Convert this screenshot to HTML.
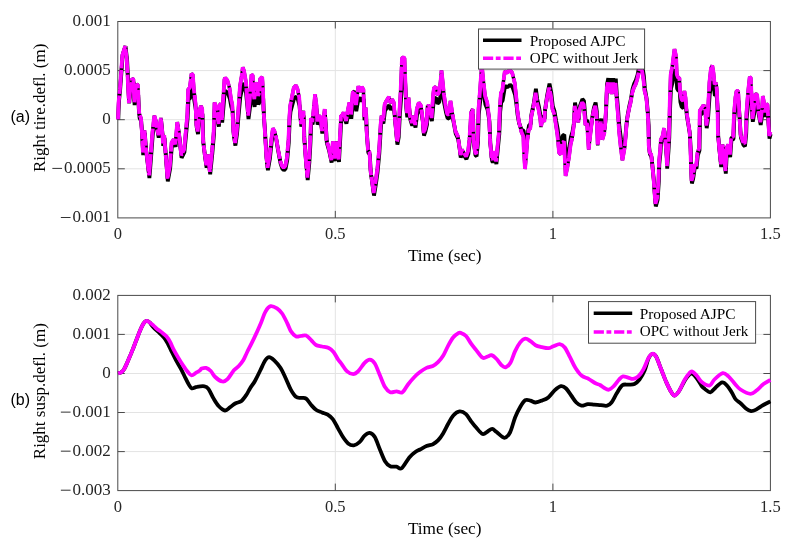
<!DOCTYPE html><html><head><meta charset="utf-8"><style>html,body{margin:0;padding:0;background:#fff;}svg{display:block;will-change:transform}</style></head><body>
<svg width="790" height="549" viewBox="0 0 790 549">
<rect width="790" height="549" fill="#fff"/>
<path d="M335.3 21.5V217.9M552.9 21.5V217.9M117.8 70.6H770.4M117.8 119.7H770.4M117.8 168.8H770.4" stroke="#e3e3e3" stroke-width="1" fill="none"/>
<rect x="117.8" y="21.5" width="652.6" height="196.4" fill="none" stroke="#4a4a4a" stroke-width="1"/>
<path d="M335.3 217.9v-7M335.3 21.5v7M552.9 217.9v-7M552.9 21.5v7M117.8 70.6h7M770.4 70.6h-7M117.8 119.7h7M770.4 119.7h-7M117.8 168.8h7M770.4 168.8h-7" stroke="#4a4a4a" stroke-width="1" fill="none"/>
<g fill="none" stroke-linejoin="bevel"><path d="M118.3 119.4L118.9 102.3L120.2 89.2L122.7 55L125.5 46.2L127.1 59.7L128.1 80.2L129.2 103.1L130.4 90.8L131.7 88.1L132.5 80.1L133.7 82.7L134.6 105.1L135.8 95.1L136.9 92.7L138.3 95.2L138.8 108.8L139.6 118L141.2 121L142.3 135.4L143.2 155.1L144.8 132.9L146.1 150.1L147.3 160L149.4 178L151 158.3L152.7 135.4L154.6 119.2L156.3 123.9L158.7 137.8L161.2 121L162.8 137L163.2 146L164.5 137.8L167.8 181.3L170.2 168.2L171.9 145.2L174 141.9L175.6 146.9L177.6 124.7L179.4 137.3L181.6 157.9L184.4 152.2L185.5 140.6L187.6 118.8L188.5 99.6L190.1 98.3L191.8 87.8L193.1 88.5L194.2 99.6L195.9 110.7L196.7 127.5L198 134.1L199.7 115.6L201.3 111.9L202.5 114.3L203.3 142.3L204.9 155.4L206.6 167.8L208.2 157.1L210.2 174.4L212.3 153.8L214 134.1L214.8 109.4L216.1 111.9L217.8 120.5L218.9 126.6L219.7 111.9L221 110.1L222.2 122.5L224.7 92.1L225.5 90.9L227.6 92.8L228.8 95.8L229.8 98.5L231.3 106.8L232.6 111.3L233.7 134.1L235.4 145.6L237 134.1L238.7 114.3L240.3 97.1L241.9 89.7L243.1 82.9L244.4 86L246.1 93.3L247.4 106.9L248.5 119.1L250.2 105.7L251.8 88.5L253 89.1L254 103.2L254.6 106.9L255.9 95.2L257.3 95.2L258.4 104.5L259.6 102L260.5 91.5L262.5 90.3L263.3 99.6L263.8 114.3L265 130.6L266.6 158.7L267.9 170.3L269.9 158.7L271.6 142.3L273.2 130.8L274.9 134.1L276.5 140.6L278.1 150.5L280.6 163.7L282.3 168.6L283.9 170.3L285.6 168.6L287.2 160.4L288.8 142.3L289.7 120.5L290.5 111.9L292.1 105.7L294.1 98.3L296.3 96.5L297.9 99.6L299.5 105.7L300.4 116.8L301.3 126.6L302.8 118.8L303.7 115.6L304.4 139L306.1 162L307.7 180.1L309.4 162L310.5 142.3L311.3 121L312.6 124.6L314.3 111.9L315.4 103.2L316.8 111.9L317.6 124.6L319.2 119.3L320.9 120.5L322.3 133.6L325 114.3L326.3 132.9L326.8 142.6L329.1 150.6L331.6 162.6L333.2 143.9L334.9 161.2L336.5 143.9L339 162L340.6 132.6L341.3 119.3L342.3 119.3L343.9 116.8L346.4 123.6L348 115.6L349.7 109.4L351.3 118.8L353 102L354.6 100.8L356.3 111.3L358.7 97.1L360.4 101.5L362 97.7L363.7 99.6L364.5 120.3L366.1 113.1L366.9 133.6L368.3 152.6L369.8 154.6L370.8 172.6L374 195.6L376 183.4L377.6 171.9L379.3 153.8L380.9 127.6L381.8 119.3L383.4 123.6L385 110.7L386.7 108.2L389.2 105.1L390.8 109.8L392.4 106.9L394.1 109.4L395.4 123.2L397.4 144.6L398.7 137.3L399.9 114.3L401 99.6L402.3 76.1L403.6 75.5L404.8 76.1L406.4 109.4L407.3 117.3L408.9 105.7L410.2 119.3L412.2 125.6L413.8 119.3L415.5 127.6L417.1 114.3L419.1 109.4L421.3 111.9L422.9 121.8L424 135.6L425.4 131.5L427 124.6L427.8 111.9L429.5 111.9L431.9 121L433.5 103.2L434.3 98.3L436 97.7L437.6 103.8L439.3 102L440.9 93.3L441.8 85.3L443.1 94.6L444.2 103.2L445.9 111.9L447.5 118L449.2 118.7L450.8 108.2L452.5 116.8L454.1 124.6L455.7 133.6L458.2 139L459.9 150.5L460.7 157.6L462.3 152.2L464 155.4L466.4 159.1L468.4 153.8L469.7 142.3L471.4 116.8L473 114.3L473.8 142.3L475.5 155.4L476.6 156.3L478 142.3L478.8 114.3L480.4 99.6L481.6 86L482.1 81.3L483.7 93.3L485.4 104.5L487.5 109.4L489.5 121.8L490.3 142.6L491.9 160.4L492.8 162.6L494.4 153.8L496.4 164.1L497.7 150.5L499.3 134.1L500.2 111.9L501.3 102L502.6 100.8L504 92.1L505.1 86L507.6 87.2L510 84.7L512.5 87.2L515 94.6L516.6 105.7L517.5 114.3L519.1 123.3L521.6 129.8L523.7 130.8L524 139.8L525.3 156.6L526.5 146.3L527.7 133.2L529 125.4L530.6 124L531.4 114.7L533.9 102.6L535.9 88.8L537.2 99.1L538.8 106.1L540.5 115.7L541.3 123L543 115.4L544.6 119L545.1 109.5L547.1 95.7L549.5 83.6L551.2 92.3L552.8 106.1L554.5 111.2L556.1 120.6L557.7 129.2L559.4 143.7L561 145L562.6 135.8L564.3 134.5L565.4 153L565.9 162.2L567.6 155.6L569.2 147.7L570.9 137.1L572.5 131.8L574.2 121.4L575 102.6L576.6 111.2L577.5 115.4L578.6 119.3L579.9 106.1L582.4 99.1L584 100.9L585.7 121.4L587.3 120L589 141.1L590.6 129.2L592.3 117.4L593.9 107.9L595.6 102.6L596.8 111.2L598 137.8L599.7 126.6L601.3 118.7L602.6 133.2L604.6 127.9L605.4 121.4L606.3 106.1L607.1 83.9L608.3 78.1L609.6 89.2L610.8 78.1L612.1 90.2L613.3 78.1L614.6 89.2L615.8 78.7L616.9 95.7L618.1 109.5L619.4 126.6L621.1 139.8L622.7 149.7L625.2 138.5L626.8 121.4L627.6 115.4L629.3 106.1L630.9 99.1L632.6 88.8L634.2 83.6L635.9 80.1L637.5 75L639.2 66.4L640.5 61.9L642.4 66.4L643.8 75.2L644.9 88.5L646.6 98.3L647.7 110.8L648.7 126.1L649 145.6L649.9 154.1L651.5 157.1L652.3 164.4L654 182.2L655.2 199.9L655.8 206.4L657.6 199.9L658.8 182.2L659.3 164.4L660.5 152.6L661.1 142.3L662.8 139L664.4 130.8L665.6 142.3L666.9 158.7L667.2 168.6L668.5 150.5L669.3 137.3L670.2 105.7L671 88.5L672.6 82.2L674.8 69.3L676.4 74.9L677.1 88.5L678.4 90.9L679.7 90.9L680.4 102L681.7 106.9L683.3 108.2L684.7 100.8L685.8 105.7L687 116.8L688.3 124.2L689.9 134.1L690.7 148.9L691.2 167L691.9 183.4L693.2 178.5L694.9 167L696.5 168.6L697.8 155.4L699.5 150.5L700.1 115.6L702.3 113.1L703.9 111.3L705.6 114.3L706.7 128.2L708 119.3L709.7 94.6L711.3 83.5L712.6 81.6L713.8 87.2L714.9 95.8L716.3 94.6L717.1 99.6L717.9 114.3L718.2 135.7L719.5 150.5L721.2 167L722.8 147.2L724.5 158.7L725.8 173.6L726.9 150.5L728.6 147.2L730.2 157.1L731.4 140.6L733.5 139L734.3 118L735.7 105.7L736.8 100.8L738.5 100.8L739.3 113.1L740.9 137.6L743.4 144.8L745 146.4L746.2 134.1L746.7 118L748.3 102L750 90.3L751.1 90.9L752.1 109.4L752.8 121.8L754.1 114.3L755.4 103.2L757.4 103.2L758.7 114.3L760.7 124.9L762.3 114.3L763.1 104.5L764.3 109.4L765.6 116.8L766.9 110.7L767.8 110.9L769.5 138.6L770.7 134.1" stroke="#000" stroke-width="3.8"/><path d="M118 119.4L118.6 102.3L119.9 89.2L122.4 55L125.2 46.2L126.8 59.7L127.8 80.2L128.9 103.1L130.1 90.8L131.4 87.5L132.2 78.5L133.4 79.3L134.3 102.3L135.5 89.2L136.6 84.3L138 85.1L138.5 102.3L139.3 114L140.9 118L142 132.8L142.9 152.5L144.5 130.3L145.8 147.5L147 157.4L149.1 175.4L150.7 155.7L152.4 132.8L154.3 115.6L156 121.3L158.4 135.2L160.9 118L162.5 134.4L162.9 143.4L164.2 135.2L167.5 178.7L169.9 165.6L171.6 142.6L173.7 139.3L175.3 144.3L177.3 122.1L179.1 134.7L181.3 155.3L184.1 149.6L185.2 138L187.3 115L188.2 89.4L189.8 87.7L191.5 73.7L192.8 74.6L193.9 89.4L195.6 104.2L196.4 124.9L197.7 131.5L199.4 110.8L201 105.8L202.2 109.1L203 139.7L204.6 152.8L206.3 165.2L207.9 154.5L209.9 171.8L212 151.2L213.7 131.5L214.5 102.5L215.8 105.8L217.5 117.3L218.6 124L219.4 105.8L220.7 103.4L221.9 119.9L224.4 79.5L225.2 77.8L227.3 80.3L228.5 84.4L229.5 88L231 99L232.3 105L233.4 131.5L235.1 143L236.7 131.5L238.4 109.1L240 86.1L241.6 76.2L242.8 67.2L244.1 71.3L245.8 81.1L247.1 99.2L248.2 115.5L249.9 97.6L251.5 74.6L252.7 75.4L253.7 94.3L254.3 99.2L255.6 83.6L257 83.6L258.1 95.9L259.3 92.7L260.2 78.7L262.2 77L263 89.4L263.5 109.1L264.7 128L266.3 156.1L267.6 167.7L269.6 156.1L271.3 139.7L272.9 128.2L274.6 131.5L276.2 138L277.8 147.9L280.3 161.1L282 166L283.6 167.7L285.3 166L286.9 157.8L288.5 139.7L289.4 117.3L290.2 105.8L291.8 97.6L293.8 87.7L296 85.3L297.6 89.4L299.2 97.6L300.1 112.4L301 124L302.5 115L303.4 110.8L304.1 136.4L305.8 159.4L307.4 177.5L309.1 159.4L310.2 139.7L311 118L312.3 122L314 105.8L315.1 94.3L316.5 105.8L317.3 122L318.9 115.7L320.6 117.3L322 131L324.7 109.1L326 130.3L326.5 140L328.8 148L331.3 160L332.9 141.3L334.6 158.6L336.2 141.3L338.7 159.4L340.3 130L341 115.7L342 115.7L343.6 112.4L346.1 121L347.7 110.8L349.4 102.5L351 115L352.7 92.7L354.3 91L356 105L358.4 86.1L360.1 92L361.7 86.9L363.4 89.4L364.2 117L365.8 107.5L366.6 131L368 150L369.5 152L370.5 170L373.7 193L375.7 180.8L377.3 169.3L379 151.2L380.6 125L381.5 115.7L383.1 121L384.7 104.2L386.4 100.9L388.9 96.8L390.5 103L392.1 99.2L393.8 102.5L395.1 120.6L397.1 142L398.4 134.7L399.6 109.1L400.7 89.4L402 58.1L403.3 57.3L404.5 58.1L406.1 102.5L407 113L408.6 97.6L409.9 115.7L411.9 123L413.5 115.7L415.2 125L416.8 109.1L418.8 102.5L421 105.8L422.6 119L423.7 133L425.1 128.9L426.7 122L427.5 105.8L429.2 105.8L431.6 118L433.2 94.3L434 87.7L435.7 86.9L437.3 95L439 92.7L440.6 81.1L441.5 70.4L442.8 82.8L443.9 94.3L445.6 105.8L447.2 114L448.9 114.9L450.5 100.9L452.2 112.4L453.8 122L455.4 131L457.9 136.4L459.6 147.9L460.4 155L462 149.6L463.7 152.8L466.1 156.5L468.1 151.2L469.4 139.7L471.1 112.4L472.7 109.1L473.5 139.7L475.2 152.8L476.3 153.7L477.7 139.7L478.5 109.1L480.1 89.4L481.3 71.3L481.8 65L483.4 81.1L485.1 96L487.2 102.5L489.2 119L490 140L491.6 157.8L492.5 160L494.1 151.2L496.1 161.5L497.4 147.9L499 131.5L499.9 105.8L501 92.7L502.3 91L503.7 79.5L504.8 71.3L507.3 72.9L509.7 69.6L512.2 72.9L514.7 82.8L516.3 97.6L517.2 109.1L518.8 121L521.3 131.5L523.4 136.4L523.7 147.9L525 169L526.2 156.1L527.4 139.7L528.7 130L530.3 128.2L531.1 117.3L533.6 105.8L535.6 92.7L536.9 102.5L538.5 109.1L540.2 118.3L541 127L542.7 118L544.3 122L544.8 112.4L546.8 99.2L549.2 87.7L550.9 96L552.5 109.1L554.2 114L555.8 124L557.4 134.7L559.1 152.8L560.7 154.5L562.3 143L564 141.3L565.1 164.4L565.6 175.9L567.3 167.7L568.9 157.8L570.6 144.6L572.2 138L573.9 124.9L574.7 105.8L576.3 114L577.2 118L578.3 122.3L579.6 109.1L582.1 102.5L583.7 104.2L585.4 125L587 123.2L588.7 149.6L590.3 134.7L592 120L593.6 110.8L595.3 105.8L596.5 114L597.7 145.4L599.4 131.5L601 121.6L602.3 139.7L604.3 133.1L605.1 125L606 109.1L606.8 88L608 82.5L609.3 93L610.5 82.5L611.8 94L613 82.5L614.3 93L615.5 83L616.6 99.2L617.8 112.4L619.1 131.5L620.8 147.9L622.4 160.3L624.9 146.3L626.5 125L627.3 118L629 109.1L630.6 102.5L632.3 92.7L633.9 87.7L635.6 84.4L637.2 79.5L638.9 71.3L640.2 67L642.1 71.3L643.5 79.5L644.6 91L646.3 97.6L647.4 109.1L648.4 125L648.7 145L649.6 152.4L651.2 154.5L652 161.8L653.7 179.6L654.9 197.3L655.5 203.8L657.3 197.3L658.5 179.6L659 161.8L660.2 150L660.8 139.7L662.5 136.4L664.1 128.2L665.3 139.7L666.6 156.1L666.9 166L668.2 147.9L669 134.7L669.9 97.6L670.7 74.6L672.3 66.3L674.5 49.1L676.1 56.5L676.8 74.6L678.1 77.8L679.4 77.8L680.1 92.7L681.4 99.2L683 100.9L684.4 91L685.5 97.6L686.7 112.4L688 121.6L689.6 131.5L690.4 146.3L690.9 164.4L691.6 180.8L692.9 175.9L694.6 164.4L696.2 166L697.5 152.8L699.2 147.9L699.8 110.8L702 107.5L703.6 105L705.3 109.1L706.4 125.6L707.7 115.7L709.4 82.8L711 68L712.3 65.5L713.5 72.9L714.6 84.4L716 82.8L716.8 89.4L717.6 109.1L717.9 133.1L719.2 147.9L720.9 164.4L722.5 144.6L724.2 156.1L725.5 171L726.6 147.9L728.3 144.6L729.9 154.5L731.1 138L733.2 136.4L734 114L735.4 97.6L736.5 91L738.2 91L739 107.5L740.6 135L743.1 142.2L744.7 143.8L745.9 131.5L746.4 114L748 92.7L749.7 77L750.8 77.8L751.8 102.5L752.5 119L753.8 109.1L755.1 94.3L757.1 94.3L758.4 109.1L760.4 122.3L762 109.1L762.8 96L764 102.5L765.3 112.4L766.6 104.2L767.5 104.5L769.2 136L770.4 131.5" stroke="#000" stroke-width="3.4"/><path d="M118 119.4L118.6 102.3L119.9 89.2L122.4 55L125.2 46.2L126.8 59.7L127.8 80.2L128.9 103.1L130.1 90.8L131.4 87.5L132.2 78.5L133.4 79.3L134.3 102.3L135.5 89.2L136.6 84.3L138 85.1L138.5 102.3L139.3 114L140.9 118L142 132.8L142.9 152.5L144.5 130.3L145.8 147.5L147 157.4L149.1 175.4L150.7 155.7L152.4 132.8L154.3 115.6L156 121.3L158.4 135.2L160.9 118L162.5 134.4L162.9 143.4L164.2 135.2L167.5 178.7L169.9 165.6L171.6 142.6L173.7 139.3L175.3 144.3L177.3 122.1L179.1 134.7L181.3 155.3L184.1 149.6L185.2 138L187.3 115L188.2 89.4L189.8 87.7L191.5 73.7L192.8 74.6L193.9 89.4L195.6 104.2L196.4 124.9L197.7 131.5L199.4 110.8L201 105.8L202.2 109.1L203 139.7L204.6 152.8L206.3 165.2L207.9 154.5L209.9 171.8L212 151.2L213.7 131.5L214.5 102.5L215.8 105.8L217.5 117.3L218.6 124L219.4 105.8L220.7 103.4L221.9 119.9L224.4 79.5L225.2 77.8L227.3 80.3L228.5 84.4L229.5 88L231 99L232.3 105L233.4 131.5L235.1 143L236.7 131.5L238.4 109.1L240 86.1L241.6 76.2L242.8 67.2L244.1 71.3L245.8 81.1L247.1 99.2L248.2 115.5L249.9 97.6L251.5 74.6L252.7 75.4L253.7 94.3L254.3 99.2L255.6 83.6L257 83.6L258.1 95.9L259.3 92.7L260.2 78.7L262.2 77L263 89.4L263.5 109.1L264.7 128L266.3 156.1L267.6 167.7L269.6 156.1L271.3 139.7L272.9 128.2L274.6 131.5L276.2 138L277.8 147.9L280.3 161.1L282 166L283.6 167.7L285.3 166L286.9 157.8L288.5 139.7L289.4 117.3L290.2 105.8L291.8 97.6L293.8 87.7L296 85.3L297.6 89.4L299.2 97.6L300.1 112.4L301 124L302.5 115L303.4 110.8L304.1 136.4L305.8 159.4L307.4 177.5L309.1 159.4L310.2 139.7L311 118L312.3 122L314 105.8L315.1 94.3L316.5 105.8L317.3 122L318.9 115.7L320.6 117.3L322 131L324.7 109.1L326 130.3L326.5 140L328.8 148L331.3 160L332.9 141.3L334.6 158.6L336.2 141.3L338.7 159.4L340.3 130L341 115.7L342 115.7L343.6 112.4L346.1 121L347.7 110.8L349.4 102.5L351 115L352.7 92.7L354.3 91L356 105L358.4 86.1L360.1 92L361.7 86.9L363.4 89.4L364.2 117L365.8 107.5L366.6 131L368 150L369.5 152L370.5 170L373.7 193L375.7 180.8L377.3 169.3L379 151.2L380.6 125L381.5 115.7L383.1 121L384.7 104.2L386.4 100.9L388.9 96.8L390.5 103L392.1 99.2L393.8 102.5L395.1 120.6L397.1 142L398.4 134.7L399.6 109.1L400.7 89.4L402 58.1L403.3 57.3L404.5 58.1L406.1 102.5L407 113L408.6 97.6L409.9 115.7L411.9 123L413.5 115.7L415.2 125L416.8 109.1L418.8 102.5L421 105.8L422.6 119L423.7 133L425.1 128.9L426.7 122L427.5 105.8L429.2 105.8L431.6 118L433.2 94.3L434 87.7L435.7 86.9L437.3 95L439 92.7L440.6 81.1L441.5 70.4L442.8 82.8L443.9 94.3L445.6 105.8L447.2 114L448.9 114.9L450.5 100.9L452.2 112.4L453.8 122L455.4 131L457.9 136.4L459.6 147.9L460.4 155L462 149.6L463.7 152.8L466.1 156.5L468.1 151.2L469.4 139.7L471.1 112.4L472.7 109.1L473.5 139.7L475.2 152.8L476.3 153.7L477.7 139.7L478.5 109.1L480.1 89.4L481.3 71.3L481.8 65L483.4 81.1L485.1 96L487.2 102.5L489.2 119L490 140L491.6 157.8L492.5 160L494.1 151.2L496.1 161.5L497.4 147.9L499 131.5L499.9 105.8L501 92.7L502.3 91L503.7 79.5L504.8 71.3L507.3 72.9L509.7 69.6L512.2 72.9L514.7 82.8L516.3 97.6L517.2 109.1L518.8 121L521.3 131.5L523.4 136.4L523.7 147.9L525 169L526.2 156.1L527.4 139.7L528.7 130L530.3 128.2L531.1 117.3L533.6 105.8L535.6 92.7L536.9 102.5L538.5 109.1L540.2 118.3L541 127L542.7 118L544.3 122L544.8 112.4L546.8 99.2L549.2 87.7L550.9 96L552.5 109.1L554.2 114L555.8 124L557.4 134.7L559.1 152.8L560.7 154.5L562.3 143L564 141.3L565.1 164.4L565.6 175.9L567.3 167.7L568.9 157.8L570.6 144.6L572.2 138L573.9 124.9L574.7 105.8L576.3 114L577.2 118L578.3 122.3L579.6 109.1L582.1 102.5L583.7 104.2L585.4 125L587 123.2L588.7 149.6L590.3 134.7L592 120L593.6 110.8L595.3 105.8L596.5 114L597.7 145.4L599.4 131.5L601 121.6L602.3 139.7L604.3 133.1L605.1 125L606 109.1L606.8 88L608 82.5L609.3 93L610.5 82.5L611.8 94L613 82.5L614.3 93L615.5 83L616.6 99.2L617.8 112.4L619.1 131.5L620.8 147.9L622.4 160.3L624.9 146.3L626.5 125L627.3 118L629 109.1L630.6 102.5L632.3 92.7L633.9 87.7L635.6 84.4L637.2 79.5L638.9 71.3L640.2 67L642.1 71.3L643.5 79.5L644.6 91L646.3 97.6L647.4 109.1L648.4 125L648.7 145L649.6 152.4L651.2 154.5L652 161.8L653.7 179.6L654.9 197.3L655.5 203.8L657.3 197.3L658.5 179.6L659 161.8L660.2 150L660.8 139.7L662.5 136.4L664.1 128.2L665.3 139.7L666.6 156.1L666.9 166L668.2 147.9L669 134.7L669.9 97.6L670.7 74.6L672.3 66.3L674.5 49.1L676.1 56.5L676.8 74.6L678.1 77.8L679.4 77.8L680.1 92.7L681.4 99.2L683 100.9L684.4 91L685.5 97.6L686.7 112.4L688 121.6L689.6 131.5L690.4 146.3L690.9 164.4L691.6 180.8L692.9 175.9L694.6 164.4L696.2 166L697.5 152.8L699.2 147.9L699.8 110.8L702 107.5L703.6 105L705.3 109.1L706.4 125.6L707.7 115.7L709.4 82.8L711 68L712.3 65.5L713.5 72.9L714.6 84.4L716 82.8L716.8 89.4L717.6 109.1L717.9 133.1L719.2 147.9L720.9 164.4L722.5 144.6L724.2 156.1L725.5 171L726.6 147.9L728.3 144.6L729.9 154.5L731.1 138L733.2 136.4L734 114L735.4 97.6L736.5 91L738.2 91L739 107.5L740.6 135L743.1 142.2L744.7 143.8L745.9 131.5L746.4 114L748 92.7L749.7 77L750.8 77.8L751.8 102.5L752.5 119L753.8 109.1L755.1 94.3L757.1 94.3L758.4 109.1L760.4 122.3L762 109.1L762.8 96L764 102.5L765.3 112.4L766.6 104.2L767.5 104.5L769.2 136L770.4 131.5" stroke="#f0f" stroke-width="3.8" stroke-dasharray="24 1.6"/></g>
<text x="72.5" y="25.7" textLength="38.25" lengthAdjust="spacingAndGlyphs" class="tl">0.001</text>
<text x="64" y="74.8" textLength="46.75" lengthAdjust="spacingAndGlyphs" class="tl">0.0005</text>
<text x="102.2" y="123.9" textLength="8.50" lengthAdjust="spacingAndGlyphs" class="tl">0</text>
<text x="64" y="173" textLength="46.75" lengthAdjust="spacingAndGlyphs" class="tl">0.0005</text>
<rect x="52.35" y="167.90" width="9.7" height="1" fill="#333"/>
<text x="72.5" y="222.1" textLength="38.25" lengthAdjust="spacingAndGlyphs" class="tl">0.001</text>
<rect x="60.85" y="217.00" width="9.7" height="1" fill="#333"/>
<text x="117.8" y="239.3" text-anchor="middle" class="tl">0</text>
<text x="335.3" y="239.3" text-anchor="middle" class="tl">0.5</text>
<text x="552.9" y="239.3" text-anchor="middle" class="tl">1</text>
<text x="770.4" y="239.3" text-anchor="middle" class="tl">1.5</text>
<text x="444.7" y="260.9" text-anchor="middle" textLength="73.6" lengthAdjust="spacingAndGlyphs" class="xl">Time (sec)</text>
<text transform="translate(45.2 107.8) rotate(-90)" text-anchor="middle" class="xl">Right tire.defl. (m)</text>
<text x="10.5" y="122.4" class="tag">(a)</text>
<rect x="478.5" y="29" width="166.1" height="40.1" fill="#fff" stroke="#4a4a4a" stroke-width="1"/>
<path d="M483 40.3H521.5" stroke="#000" stroke-width="3.6"/>
<path d="M483 58.2H521.5" stroke="#f0f" stroke-width="3.6" stroke-dasharray="10.2 2.6 4.8 2.8"/>
<text x="529.7" y="45.5" textLength="95.9" lengthAdjust="spacingAndGlyphs" class="lg">Proposed AJPC</text>
<text x="529.7" y="63.2" textLength="108.6" lengthAdjust="spacingAndGlyphs" class="lg">OPC without Jerk</text>
<path d="M335.3 295.4V490.6M552.9 295.4V490.6M117.8 334.4H770.4M117.8 373.5H770.4M117.8 412.5H770.4M117.8 451.6H770.4" stroke="#e3e3e3" stroke-width="1" fill="none"/>
<rect x="117.8" y="295.4" width="652.6" height="195.2" fill="none" stroke="#4a4a4a" stroke-width="1"/>
<path d="M335.3 490.6v-7M335.3 295.4v7M552.9 490.6v-7M552.9 295.4v7M117.8 334.4h7M770.4 334.4h-7M117.8 373.5h7M770.4 373.5h-7M117.8 412.5h7M770.4 412.5h-7M117.8 451.6h7M770.4 451.6h-7" stroke="#4a4a4a" stroke-width="1" fill="none"/>
<g fill="none" stroke-linejoin="round"><path d="M118.2 373.4C118.7 373.2 120 373.1 120.9 372.5C121.9 371.9 122.9 371 123.9 369.5C124.9 368 125.8 365.8 126.8 363.6C127.8 361.4 128.8 358.9 129.8 356.5C130.8 354.1 131.8 351.9 132.8 349.4C133.8 346.9 134.7 344.3 135.7 341.7C136.7 339.1 137.7 336.5 138.7 334C139.7 331.5 140.7 328.8 141.7 326.8C142.7 324.8 143.7 323.1 144.6 322.1C145.5 321.1 146.1 320.8 147 320.9C147.9 321 149.3 322.1 150 322.7C150.7 323.3 150.4 323.5 151.2 324.5C152 325.5 153.3 327.2 154.7 328.6C156.1 330 157.9 331.5 159.5 333C161.1 334.5 162.8 336 164.2 337.8C165.6 339.6 166.6 341.5 167.8 343.7C169 345.9 169.9 348 171.3 350.8C172.7 353.6 174.5 357.3 176.1 360.3C177.7 363.3 179.2 365.6 180.8 368.6C182.4 371.6 184.2 375.5 185.5 378.1C186.8 380.8 187.8 382.8 188.8 384.5C189.9 386.2 190.5 388 191.8 388.4C193.2 388.8 194.8 387.2 196.9 386.9C199 386.5 202.6 386 204.5 386.3C206.4 386.6 206.9 386.8 208.4 388.8C209.9 390.8 211.8 395.5 213.5 398.4C215.2 401.3 216.7 404 218.6 406C220.5 408 223.1 410.3 225 410.5C226.9 410.7 228.3 408.5 230 407.3C231.7 406.1 233.3 404.6 235.2 403.5C237.1 402.4 239.6 402.4 241.5 400.9C243.4 399.4 245.2 396.6 246.6 394.5C248 392.4 248.6 390.7 250 388.4C251.4 386.1 253.4 383.7 255.1 380.7C256.8 377.7 258.5 373.9 260.2 370.5C261.9 367.1 263.8 362.5 265.3 360.3C266.8 358.1 267.6 357.1 269.1 357.1C270.6 357.1 272.3 358.5 274.2 360.3C276.1 362.1 278.7 365 280.6 368C282.5 371 284 374.6 285.7 378.2C287.4 381.8 289.1 386.5 290.8 389.6C292.5 392.7 294.2 395.3 295.9 396.7C297.6 398.1 299.3 397.6 301 397.9C302.7 398.2 304.4 397.4 306.1 398.6C307.8 399.8 309.5 403.1 311.2 405C312.9 406.9 314.5 408.8 316.3 410C318.1 411.2 320.1 411.7 322 412.5C323.9 413.3 325.9 413.6 327.7 414.7C329.5 415.8 331.1 416.9 332.8 419.1C334.5 421.3 336.2 425.1 337.9 428.1C339.6 431.1 341.3 434.4 343 437C344.7 439.6 346.3 442 348.1 443.4C349.9 444.8 351.9 445.5 353.8 445.3C355.7 445.1 357.7 443.7 359.5 442.1C361.3 440.5 362.9 437.2 364.6 435.7C366.3 434.2 368 432.7 369.7 432.9C371.4 433.1 373.1 434.2 374.8 437C376.5 439.8 378.3 445.7 380 449.7C381.7 453.7 383.3 458.4 385 461.2C386.7 464 388.3 465.4 390.2 466.3C392.1 467.2 394.6 466.3 396.5 466.6C398.4 466.9 399.5 469.7 401.6 468.2C403.7 466.7 407 460.1 409.3 457.4C411.6 454.7 413.5 453.3 415.3 452C417.1 450.7 418.2 450.5 420.1 449.5C422 448.5 424.4 447 426.5 446.1C428.6 445.2 431 445.1 432.9 444.2C434.8 443.2 436.3 442.2 438 440.4C439.7 438.6 441.4 436.2 443.1 433.4C444.8 430.6 446.5 426.8 448.2 423.8C449.9 420.8 451.4 417.6 453.3 415.5C455.2 413.4 457.5 411.6 459.6 411.4C461.7 411.2 464.1 412.5 466 414.2C467.9 415.9 469.4 419.1 471.1 421.3C472.8 423.5 474.3 425.5 476.2 427.6C478.1 429.7 480.7 433.4 482.6 434C484.5 434.6 486.1 432.4 487.7 431.5C489.3 430.6 490.7 428.8 492.2 428.9C493.7 429 494.6 430.6 496.6 432.1C498.6 433.6 502.1 437.7 504.3 437.8C506.5 437.9 508.2 435.9 510 432.5C511.8 429.1 513.4 421.8 515.1 417.5C516.8 413.2 518.5 409.9 520.2 407C521.9 404.1 523.6 401.3 525.3 400.2C527 399.1 528.7 400.2 530.4 400.6C532.1 401 533.6 402.5 535.5 402.5C537.4 402.5 539.8 401.5 541.9 400.6C544 399.8 546.2 399.1 548.3 397.4C550.4 395.7 552.5 392.3 554.6 390.4C556.7 388.5 559.1 386.5 561 386.2C562.9 385.9 564.4 386.9 566.1 388.5C567.8 390.1 569.5 393.2 571.2 395.5C572.9 397.8 574.6 400.8 576.3 402.5C578 404.2 579.5 405.4 581.4 405.7C583.3 406 585.7 404.4 587.8 404.2C589.9 404 592 404.5 594.2 404.7C596.4 404.9 598.9 405 601 405.2C603.1 405.4 605.2 406.1 607 405.7C608.8 405.2 609.9 404.5 611.5 402.5C613.1 400.5 614.8 396.5 616.6 393.6C618.4 390.7 620.4 386.8 622.3 385.3C624.2 383.8 626.1 384.8 628.1 384.6C630.1 384.4 632.5 384.9 634.4 384C636.3 383.1 637.8 381.7 639.5 379.5C641.2 377.3 643.1 374.1 644.6 370.6C646.1 367.1 647.2 361.3 648.5 358.5C649.8 355.7 651 354.3 652.3 354C653.6 353.7 654.6 354.1 656.1 356.6C657.6 359.2 659.5 365.1 661.2 369.3C662.9 373.6 664.6 378.3 666.3 382.1C668 385.9 670 390.1 671.4 392.3C672.8 394.5 673.3 395.7 674.6 395.5C675.9 395.3 677.5 393.4 679.1 391C680.8 388.6 682.8 383.8 684.5 381C686.2 378.2 688.2 375.8 689.5 374.5C690.8 373.2 691 372.9 692.2 373.5C693.4 374.1 695 375.9 696.6 378C698.2 380.1 700.3 384.1 701.7 386C703.1 387.9 703.7 388.1 705.1 389.2C706.5 390.2 708.7 392.6 710.4 392.3C712.1 392.1 713.5 389.4 715.5 387.7C717.5 386 720.2 382.7 722.2 382.4C724.2 382.1 725.8 384.3 727.4 386C729 387.7 730.4 390.3 731.8 392.5C733.2 394.7 734.2 397.6 735.7 399.4C737.2 401.2 739.1 402 740.8 403.5C742.5 405 744.2 407.3 745.9 408.6C747.6 409.9 749.3 410.9 751 411.1C752.7 411.3 754.1 410.6 756.1 409.6C758.1 408.6 760.9 406.4 763.3 405C765.7 403.6 769.2 402 770.4 401.4" stroke="#000" stroke-width="3.8"/><path d="M118.2 373.4C118.7 373.2 120 373.1 120.9 372.5C121.9 371.9 122.9 371 123.9 369.5C124.9 368 125.8 365.8 126.8 363.6C127.8 361.4 128.8 358.9 129.8 356.5C130.8 354.1 131.8 351.9 132.8 349.4C133.8 346.9 134.7 344.3 135.7 341.7C136.7 339.1 137.7 336.5 138.7 334C139.7 331.5 140.7 328.8 141.7 326.8C142.7 324.8 143.7 323.1 144.6 322.1C145.5 321.1 146.1 320.8 147 320.9C147.9 321 148.9 321.9 150 322.7C151.1 323.5 152.4 324.6 153.6 325.6C154.8 326.6 155.7 327.8 157.1 328.9C158.5 330 160.2 331.1 161.8 332.4C163.4 333.7 165.2 335 166.6 336.6C168 338.2 168.9 339.7 170.1 341.9C171.3 344.1 172.3 346.9 173.7 349.6C175.1 352.3 176.8 355.2 178.4 357.9C180 360.6 181.6 363.2 183.2 365.6C184.8 368 186.5 370.5 187.9 372.1C189.3 373.7 190.1 375.2 191.5 375.3C192.9 375.4 194.8 373.5 196.2 372.7C197.6 371.9 198.9 371.1 199.8 370.4C200.7 369.7 200.7 369 201.7 368.6C202.7 368.2 204.5 367.5 206 367.9C207.5 368.3 209.3 369.5 210.8 371C212.3 372.5 213.3 375.2 215.2 377C217.1 378.8 220.3 381.1 222.4 381.5C224.5 381.9 225.6 381.1 227.5 379.2C229.4 377.3 232 372.5 233.9 370.3C235.8 368.1 237.4 367.5 239 365.8C240.6 364.1 242 362.4 243.4 360.1C244.8 357.8 245.4 355.6 247.2 352C249 348.4 251.8 343 254 338.4C256.2 333.8 258.5 328.8 260.4 324.3C262.3 319.8 263.8 314.6 265.5 311.6C267.2 308.6 268.7 306.7 270.6 306.2C272.5 305.7 275.1 307.2 277 308.4C278.9 309.6 280.4 311.1 282.1 313.5C283.8 315.9 285.7 320.1 287.2 323.1C288.7 326.1 289.5 329.2 291 331.4C292.5 333.6 294.4 335.8 296.1 336.5C297.8 337.2 299.5 335.9 301.2 335.8C302.9 335.7 304.6 334.9 306.3 335.6C308 336.4 309.8 338.7 311.4 340.3C313 341.9 314.2 344 316 345C317.8 346 319.9 346 322 346.5C324.1 347 326.8 347.1 328.7 348C330.6 348.9 331.9 350.1 333.5 352C335.1 353.9 336.6 357.3 338 359.3C339.4 361.3 340.2 362.1 341.7 364.1C343.2 366.1 344.9 369.4 346.8 371.1C348.7 372.8 351.3 374.1 353.2 374.1C355.1 374.1 356.4 373 358.3 371.1C360.2 369.2 362.7 364.8 364.6 362.9C366.5 361 368 359.6 369.7 359.7C371.4 359.8 373.1 360.9 374.8 363.5C376.5 366.1 378.3 371.7 380 375.6C381.7 379.5 383.3 384.3 385 387.1C386.7 389.9 388.3 391.5 390.2 392.2C392.1 392.9 394.5 391.3 396.5 391.3C398.5 391.3 400.4 393.5 402.3 392.4C404.2 391.3 406 387.1 408 384.5C410 381.9 412.4 379.1 414.4 377C416.4 374.9 418 373.6 420 372.1C422 370.6 424.4 368.9 426.5 367.9C428.6 366.9 431 366.9 432.9 366C434.8 365.1 436.3 363.9 438 362.2C439.7 360.5 441.4 358.6 443.1 355.8C444.8 353 446.5 348.7 448.2 345.6C449.9 342.5 451.6 339.4 453.3 337.3C455 335.2 457.1 333.8 458.4 333.1C459.7 332.4 459.6 332.4 460.9 332.9C462.2 333.4 464.3 334.2 466 336C467.7 337.8 469.4 341.3 471.1 343.7C472.8 346.1 474.3 347.8 476.2 350.1C478.1 352.4 480.7 356.6 482.6 357.7C484.5 358.8 486.2 356.9 487.7 356.5C489.2 356.1 490 354.8 491.5 355.2C493 355.6 494.9 357.3 496.6 359C498.3 360.7 500.2 364 501.7 365.4C503.2 366.8 504.2 367.7 505.6 367.3C507 366.9 508.7 365.6 510.3 363C511.9 360.4 513.4 354.8 515 351.4C516.6 348 518.5 344.5 520.2 342.4C521.9 340.3 523.6 338.8 525.3 338.6C527 338.4 528.7 340 530.4 341.1C532.1 342.2 533.6 344.2 535.5 345.2C537.4 346.2 539.8 346.6 541.9 347.1C544 347.6 546.4 348.3 548.3 348.2C550.2 348.1 551.5 347 553.4 346.3C555.3 345.6 557.8 343.9 559.7 344.1C561.6 344.3 563.1 345.3 564.8 347.5C566.5 349.7 568.2 353.7 570 357.1C571.8 360.5 573.5 364.9 575.5 368C577.5 371.1 579.6 374 581.8 375.8C584 377.6 586.2 377.6 588.5 378.8C590.8 380.1 593.6 382.3 595.5 383.3C597.4 384.3 598.6 384.2 600 385C601.4 385.8 602.5 387 604 387.8C605.5 388.6 607.2 390 608.9 389.7C610.6 389.4 612.3 387.6 614 385.9C615.7 384.2 617.6 381.1 619.1 379.5C620.6 377.9 621.5 376.7 623 376.4C624.5 376.1 626.4 377.2 628.1 377.6C629.8 378 631.5 379.1 633.2 378.9C634.9 378.7 636.6 378 638.3 376.4C640 374.8 641.7 372.4 643.4 369.3C645.1 366.2 647 360.5 648.5 357.9C650 355.3 651 354 652.3 353.8C653.6 353.6 654.6 354 656.1 356.6C657.6 359.2 659.5 365.1 661.2 369.3C662.9 373.6 664.6 378.3 666.3 382.1C668 385.9 670 390.1 671.4 392.3C672.8 394.5 673.3 395.7 674.6 395.5C675.9 395.3 677.5 393.6 679.1 391C680.8 388.4 682.8 383 684.5 380C686.2 377 688 374.6 689.3 373.2C690.6 371.8 691 371.2 692.3 371.6C693.5 372 695.2 374 696.8 375.7C698.4 377.4 699.6 380.4 701.7 382C703.8 383.6 707.4 386 709.5 385.6C711.6 385.2 712.2 381.6 714.4 379.5C716.6 377.4 720.4 373.7 722.7 373.2C725.1 372.7 726.4 374.6 728.5 376.4C730.6 378.2 733.2 382 735.2 384.2C737.2 386.4 738 387.9 740.5 389.5C743 391.1 747.8 393.8 750.5 393.9C753.2 394 754.6 391.9 756.8 390.3C759 388.7 761.2 385.7 763.5 384C765.8 382.3 769.2 380.7 770.4 380" stroke="#f0f" stroke-width="3.8"/></g>
<text x="72.5" y="299.6" textLength="38.25" lengthAdjust="spacingAndGlyphs" class="tl">0.002</text>
<text x="72.5" y="338.6" textLength="38.25" lengthAdjust="spacingAndGlyphs" class="tl">0.001</text>
<text x="102.2" y="377.7" textLength="8.50" lengthAdjust="spacingAndGlyphs" class="tl">0</text>
<text x="72.5" y="416.7" textLength="38.25" lengthAdjust="spacingAndGlyphs" class="tl">0.001</text>
<rect x="60.85" y="411.62" width="9.7" height="1" fill="#333"/>
<text x="72.5" y="455.8" textLength="38.25" lengthAdjust="spacingAndGlyphs" class="tl">0.002</text>
<rect x="60.85" y="450.66" width="9.7" height="1" fill="#333"/>
<text x="72.5" y="494.8" textLength="38.25" lengthAdjust="spacingAndGlyphs" class="tl">0.003</text>
<rect x="60.85" y="489.70" width="9.7" height="1" fill="#333"/>
<text x="117.8" y="512" text-anchor="middle" class="tl">0</text>
<text x="335.3" y="512" text-anchor="middle" class="tl">0.5</text>
<text x="552.9" y="512" text-anchor="middle" class="tl">1</text>
<text x="770.4" y="512" text-anchor="middle" class="tl">1.5</text>
<text x="444.7" y="533.6" text-anchor="middle" textLength="73.6" lengthAdjust="spacingAndGlyphs" class="xl">Time (sec)</text>
<text transform="translate(45.2 391.2) rotate(-90)" text-anchor="middle" class="xl">Right susp.defl. (m)</text>
<text x="10.5" y="404.5" class="tag">(b)</text>
<rect x="588.5" y="301.6" width="167.1" height="41.6" fill="#fff" stroke="#4a4a4a" stroke-width="1"/>
<path d="M593.7 313.2H632.2" stroke="#000" stroke-width="3.6"/>
<path d="M593.7 332H632.2" stroke="#f0f" stroke-width="3.6" stroke-dasharray="10.2 2.6 4.8 2.8"/>
<text x="639.7" y="318.5" textLength="95.9" lengthAdjust="spacingAndGlyphs" class="lg">Proposed AJPC</text>
<text x="639.7" y="336.2" textLength="108.6" lengthAdjust="spacingAndGlyphs" class="lg">OPC without Jerk</text>
<style>.tl{font:16.5px "Liberation Serif",serif;fill:#262626}.xl{font:17px "Liberation Serif",serif;fill:#000}.lg{font:15px "Liberation Serif",serif;fill:#000}.tag{font:16px "Liberation Sans",sans-serif;fill:#000}</style>
</svg></body></html>
